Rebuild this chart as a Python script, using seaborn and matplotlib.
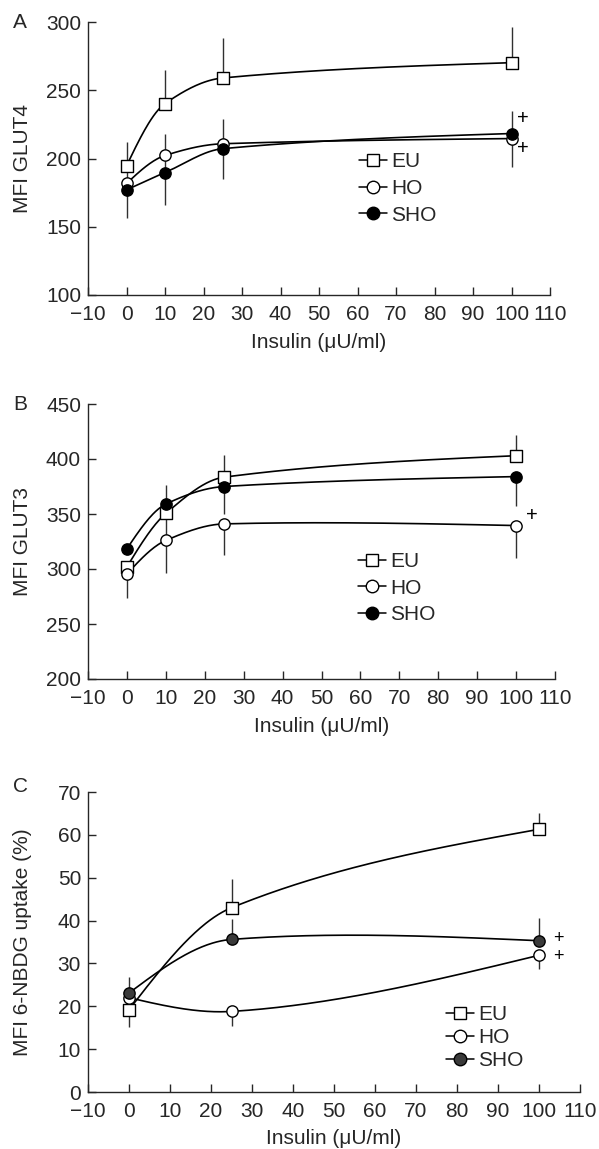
import numpy as np
import pandas as pd
import matplotlib
matplotlib.use("Agg")
import matplotlib.pyplot as plt
from matplotlib.lines import Line2D
import seaborn as sns

# ---------------- data ----------------
insulin_ab = [0, 10, 25, 100]
insulin_c = [0, 25, 100]
series_names = ["EU", "HO", "SHO"]

# Panel A: GLUT4
glut4_eu = [194.6, 240.2, 259.0, 270.2]
glut4_eu_up = [17.4, 24.8, 29.0, 25.8]
glut4_eu_dn = [0, 0, 0, 0]
glut4_ho = [181.7, 202.2, 210.8, 214.6]
glut4_ho_up = [12.0, 15.8, 18.0, 0]
glut4_ho_dn = [0, 0, 0, 20.6]
glut4_sho = [177.0, 189.7, 207.2, 218.3]
glut4_sho_up = [0, 12.0, 0, 16.3]
glut4_sho_dn = [20.8, 23.5, 22.4, 0]

# Panel B: GLUT3
glut3_eu = [302.0, 350.5, 383.5, 403.0]
glut3_eu_up = [0, 0, 20.0, 18.5]
glut3_eu_dn = [0, 20.0, 0, 0]
glut3_ho = [295.5, 326.0, 341.0, 339.5]
glut3_ho_up = [0, 0, 0, 0]
glut3_ho_dn = [21.9, 30.0, 28.5, 29.5]
glut3_sho = [318.5, 359.0, 375.0, 384.0]
glut3_sho_up = [0, 17.0, 0, 0]
glut3_sho_dn = [0, 0, 25.0, 27.0]

# Panel C: 6-NBDG uptake (%)
nbdg_eu = [19.2, 43.0, 61.3]
nbdg_eu_up = [0, 6.8, 3.7]
nbdg_eu_dn = [4.0, 0, 0]
nbdg_ho = [22.0, 18.8, 31.9]
nbdg_ho_up = [0, 0, 0]
nbdg_ho_dn = [0, 3.3, 3.1]
nbdg_sho = [23.1, 35.6, 35.3]
nbdg_sho_up = [3.8, 4.8, 5.4]
nbdg_sho_dn = [0, 0, 0]

xticks = list(range(-10, 111, 10))
xtick_labels = ["\u221210"] + [str(v) for v in range(0, 111, 10)]

# ---------------- style ----------------
sns.set_style("ticks")
plt.rcParams["font.family"] = ["Liberation Sans", "DejaVu Sans"]
FS = 15

W, H = 599, 1149
fig = plt.figure(figsize=(W / 100, H / 100), dpi=100)


def px_axes(left, right, top, bottom):
    return [left / W, 1 - bottom / H, (right - left) / W, (bottom - top) / H]


def smooth_curve(x, y, xs):
    """Cubic Hermite curve through the points (used only for drawing the line)."""
    x = np.asarray(x, float)
    y = np.asarray(y, float)
    n = len(x)
    h = np.diff(x)
    d = np.diff(y) / h
    m = np.zeros(n)
    for i in range(1, n - 1):
        if d[i - 1] * d[i] > 0:
            m[i] = 2.0 / (1.0 / d[i - 1] + 1.0 / d[i])
        else:
            m[i] = 0.6 * (y[i + 1] - y[i - 1]) / (x[i + 1] - x[i - 1])
    m[0] = (3 * d[0] - m[1]) / 2
    m[-1] = (3 * d[-1] - m[-2]) / 2
    idx = np.clip(np.searchsorted(x, xs) - 1, 0, n - 2)
    hh = h[idx]
    t = (xs - x[idx]) / hh
    h00 = 2 * t ** 3 - 3 * t ** 2 + 1
    h10 = t ** 3 - 2 * t ** 2 + t
    h01 = -2 * t ** 3 + 3 * t ** 2
    h11 = t ** 3 - t ** 2
    return h00 * y[idx] + h10 * hh * m[idx] + h01 * y[idx + 1] + h11 * hh * m[idx + 1]


MARKERS = {"EU": ("s", "white"), "HO": ("o", "white"), "SHO": ("o", "black")}


def draw_panel(ax, xs, groups, ylim, yticks, ylabel, sho_color, plus, plus_fs,
               legend_anchor, labelspacing, ylab_px, xlab_px, ax_px):
    left, right, top, bottom = ax_px
    for name, (vals, up, dn) in zip(series_names, groups):
        mk, fc = MARKERS[name]
        if name == "SHO":
            fc = sho_color
        ax.errorbar(xs, vals, yerr=[dn, up], fmt="none", ecolor="#303030",
                    elinewidth=1.0, capsize=0, zorder=1)
        xd = np.linspace(min(xs), max(xs), 300)
        yd = smooth_curve(xs, vals, xd)
        sns.lineplot(x=xd, y=yd, ax=ax, color="black", lw=1.2, zorder=2,
                     legend=False, sort=False)
        sns.scatterplot(x=xs, y=vals, ax=ax, marker=mk, s=66, color=fc,
                        edgecolor="black", linewidth=1.0, zorder=3, legend=False)
    for (px, py) in plus:
        ax.text(px, py, "+", fontsize=plus_fs, ha="left", va="center", color="black")

    ax.set_xlim(-10, 110)
    ax.set_ylim(*ylim)
    ax.set_xticks(xticks)
    ax.set_xticklabels(xtick_labels)
    ax.set_yticks(yticks)
    ax.set_yticklabels([str(v) for v in yticks])
    sns.despine(ax=ax)
    for sp in ("left", "bottom"):
        ax.spines[sp].set_linewidth(1.0)
    ax.tick_params(direction="in", length=5.5, width=1.0, labelsize=FS)
    ax.tick_params(axis="x", pad=7)
    ax.tick_params(axis="y", pad=5)
    ax.set_xlabel("Insulin (\u03bcU/ml)", fontsize=FS)
    ax.set_ylabel(ylabel, fontsize=FS)
    ax.yaxis.set_label_coords((ylab_px - left) / (right - left), 0.5)
    ax.yaxis.label.set_va("center")
    ax.xaxis.set_label_coords(0.5, (bottom - xlab_px) / (bottom - top))
    ax.xaxis.label.set_va("center")

    handles = []
    for name in series_names:
        mk, fc = MARKERS[name]
        if name == "SHO":
            fc = sho_color
        handles.append(Line2D([0], [0], color="black", lw=1.1, marker=mk, ms=9,
                              mfc=fc, mec="black", mew=1.0))
    ax.legend(handles, series_names, loc="center left", bbox_to_anchor=legend_anchor,
              frameon=False, fontsize=FS, handlelength=1.35, handletextpad=0.2,
              borderpad=0, borderaxespad=0, labelspacing=labelspacing, numpoints=1)


# Panel A
axA_px = (88, 550, 22, 295)
axA = fig.add_axes(px_axes(*axA_px))
draw_panel(axA, insulin_ab,
           [(glut4_eu, glut4_eu_up, glut4_eu_dn),
            (glut4_ho, glut4_ho_up, glut4_ho_dn),
            (glut4_sho, glut4_sho_up, glut4_sho_dn)],
           (100, 300), [100, 150, 200, 250, 300], "MFI GLUT4", "black",
           [(101.3, 229.5), (101.3, 207.5)], 14.5,
           ((359 - 88) / 462, (295 - 188.5) / 273), 0.37, 22.5, 342, axA_px)

# Panel B
axB_px = (88, 555, 404, 679)
axB = fig.add_axes(px_axes(*axB_px))
draw_panel(axB, insulin_ab,
           [(glut3_eu, glut3_eu_up, glut3_eu_dn),
            (glut3_ho, glut3_ho_up, glut3_ho_dn),
            (glut3_sho, glut3_sho_up, glut3_sho_dn)],
           (200, 450), [200, 250, 300, 350, 400, 450], "MFI GLUT3", "black",
           [(102.5, 348.5)], 14.5,
           ((358 - 88) / 467, (679 - 588) / 275), 0.37, 22.5, 727, axB_px)

# Panel C
axC_px = (88, 580, 792, 1092)
axC = fig.add_axes(px_axes(*axC_px))
draw_panel(axC, insulin_c,
           [(nbdg_eu, nbdg_eu_up, nbdg_eu_dn),
            (nbdg_ho, nbdg_ho_up, nbdg_ho_dn),
            (nbdg_sho, nbdg_sho_up, nbdg_sho_dn)],
           (0, 70), [0, 10, 20, 30, 40, 50, 60, 70], "MFI 6-NBDG uptake (%)", "#3a3a3a",
           [(103.4, 35.9), (103.4, 31.6)], 13,
           ((446 - 88) / 492, (1092 - 1037.5) / 300), 0.2, 22.5, 1138, axC_px)

for letter, (lx, ly) in zip(["A", "B", "C"], [(20, 23), (20, 404), (20, 787)]):
    fig.text(lx / W, 1 - ly / H, letter, fontsize=FS, ha="center", va="center")

fig.savefig("out.png", dpi=100)
